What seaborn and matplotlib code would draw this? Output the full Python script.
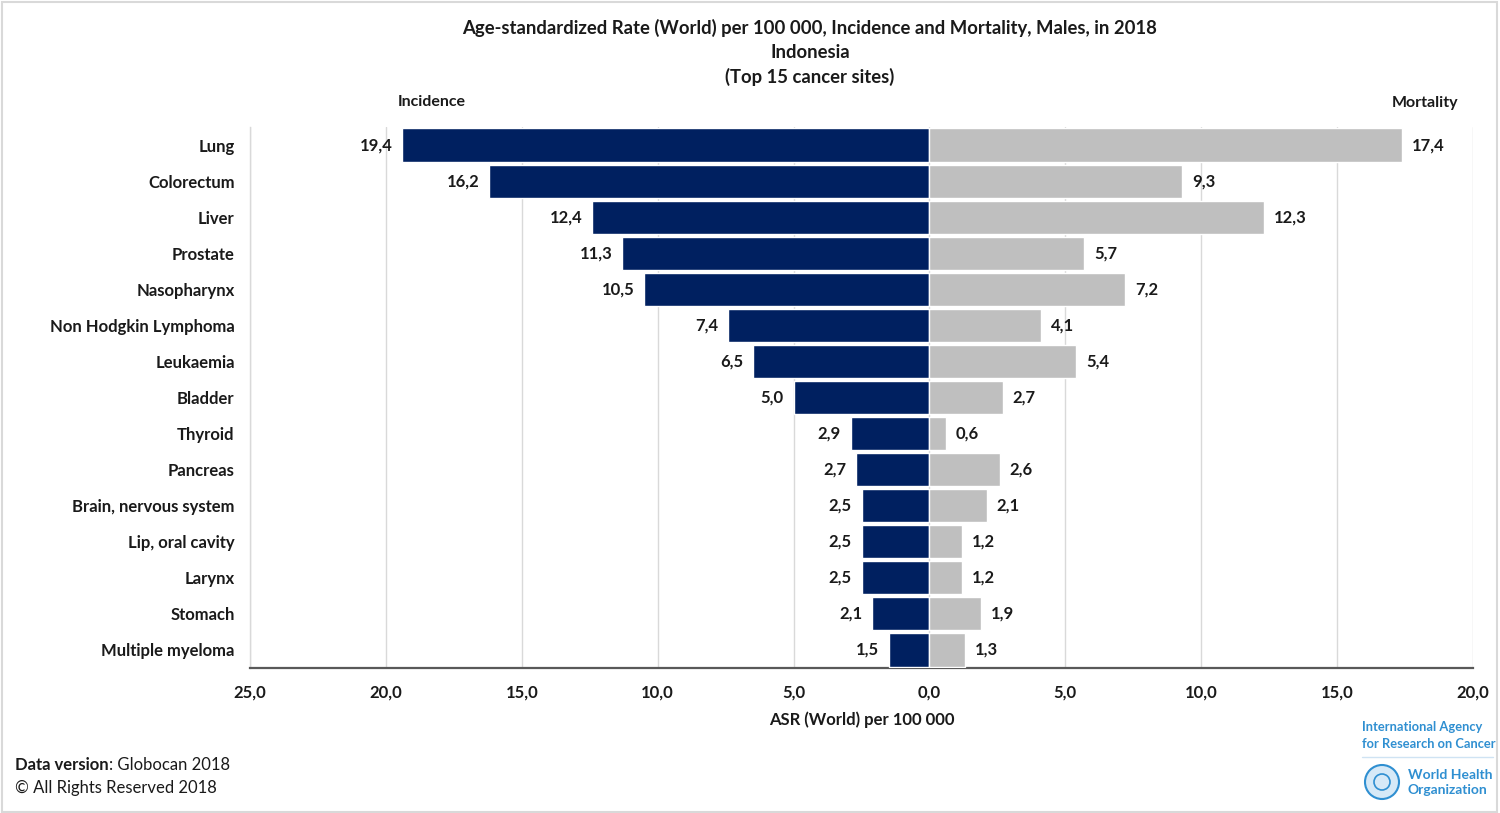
import matplotlib
matplotlib.use("Agg")
import matplotlib.pyplot as plt
import seaborn as sns
import pandas as pd
from matplotlib.ticker import FuncFormatter, FixedLocator
from matplotlib.patches import Rectangle, Circle

sites = ["Lung", "Colorectum", "Liver", "Prostate", "Nasopharynx",
         "Non Hodgkin Lymphoma", "Leukaemia", "Bladder", "Thyroid", "Pancreas",
         "Brain, nervous system", "Lip, oral cavity", "Larynx", "Stomach",
         "Multiple myeloma"]
incidence = [19.4, 16.2, 12.4, 11.3, 10.5, 7.4, 6.5, 5.0, 2.9, 2.7, 2.5, 2.5, 2.5, 2.1, 1.5]
mortality = [17.4, 9.3, 12.3, 5.7, 7.2, 4.1, 5.4, 2.7, 0.6, 2.6, 2.1, 1.2, 1.2, 1.9, 1.3]
x_ticks = [-25, -20, -15, -10, -5, 0, 5, 10, 15, 20]

sns.set_theme(style="white")
plt.rcParams["font.family"] = ["Lato", "DejaVu Sans"]

df_inc = pd.DataFrame({"site": sites, "value": [-v for v in incidence]})
df_mor = pd.DataFrame({"site": sites, "value": mortality})

fig = plt.figure(figsize=(15, 8.13), dpi=100)
ax = fig.add_axes([250/1500, 1-668/813, (1473-250)/1500, (668-127)/813])

sns.barplot(data=df_inc, x="value", y="site", order=sites, orient="h",
            color="#002060", saturation=1, width=0.92, ax=ax, zorder=3)
sns.barplot(data=df_mor, x="value", y="site", order=sites, orient="h",
            color="#BFBFBF", saturation=1, width=0.92, ax=ax, zorder=3)

fmt = lambda v: f"{abs(v):.1f}".replace(".", ",")
ax.bar_label(ax.containers[0], labels=[fmt(v) for v in incidence], padding=7,
             fontsize=12, fontweight="bold", color="#1a1a1a")
ax.bar_label(ax.containers[1], labels=[fmt(v) for v in mortality], padding=7,
             fontsize=12, fontweight="bold", color="#1a1a1a")

ax.set_xlim(-25, 20)
ax.set_ylim(14.5, -0.5)
ax.xaxis.set_major_locator(FixedLocator(x_ticks))
ax.xaxis.set_major_formatter(FuncFormatter(lambda v, p: fmt(v)))
ax.grid(axis="x", color="#D9D9D9", linewidth=1, zorder=0)
ax.grid(axis="y", visible=False)
ax.set_axisbelow(True)

for s in ["top", "right"]:
    ax.spines[s].set_visible(False)
ax.spines["left"].set_color("#D9D9D9")
ax.spines["left"].set_linewidth(1)
ax.spines["bottom"].set_color("#595959")
ax.spines["bottom"].set_linewidth(1.6)

ax.tick_params(axis="y", length=0, pad=11, labelsize=12)
ax.tick_params(axis="x", length=0, pad=12, labelsize=12)
for t in ax.get_yticklabels() + ax.get_xticklabels():
    t.set_fontweight("bold")
    t.set_color("#1a1a1a")
ax.set_ylabel("")
ax.set_xlabel("ASR (World) per 100 000", fontsize=12, fontweight="bold",
              color="#1a1a1a", labelpad=8)

# Titles
tkw = dict(ha="center", va="center", fontsize=13.3, fontweight="bold", color="#1a1a1a")
fig.text(810/1500, 1-28/813, "Age-standardized Rate (World) per 100 000, Incidence and Mortality, Males, in 2018", **tkw)
fig.text(810/1500, 1-52/813, "Indonesia", **tkw)
fig.text(810/1500, 1-77/813, "(Top 15 cancer sites)", **tkw)
fig.text(432/1500, 1-102/813, "Incidence", ha="center", va="center",
         fontsize=11.5, fontweight="bold", color="#1a1a1a")
fig.text(1425/1500, 1-103/813, "Mortality", ha="center", va="center",
         fontsize=11.5, fontweight="bold", color="#1a1a1a")

# Footer
t1 = fig.text(15/1500, 1-765/813, "Data version", ha="left", va="center",
              fontsize=12, fontweight="bold", color="#1a1a1a")
ax.annotate(": Globocan 2018", xy=(1, 0), xycoords=t1, ha="left", va="bottom",
            fontsize=12, color="#1a1a1a", annotation_clip=False)
fig.text(15/1500, 1-788/813, "© All Rights Reserved 2018", ha="left", va="center",
         fontsize=12, color="#1a1a1a")

# Logo text
blue = "#2F8FD1"
fig.text(1362/1500, 1-727/813, "International Agency", ha="left", va="center",
         fontsize=9.3, color=blue, fontweight="bold")
fig.text(1362/1500, 1-744/813, "for Research on Cancer", ha="left", va="center",
         fontsize=9.3, color=blue, fontweight="bold")
fig.add_artist(plt.Line2D([1362/1500, 1493/1500], [1-757/813, 1-757/813],
                          color="#cfe3f3", linewidth=1))
fig.add_artist(Circle((13.82, 8.13 - 7.82), 0.17, transform=fig.dpi_scale_trans,
                      facecolor="#d6e9f7", edgecolor=blue, linewidth=1.5))
fig.add_artist(Circle((13.82, 8.13 - 7.82), 0.08, transform=fig.dpi_scale_trans,
                      facecolor="none", edgecolor=blue, linewidth=1.2))
fig.text(1408/1500, 1-775/813, "World Health", ha="left", va="center",
         fontsize=10, color=blue, fontweight="bold")
fig.text(1408/1500, 1-790/813, "Organization", ha="left", va="center",
         fontsize=10, color=blue, fontweight="bold")

# figure frame
fig.add_artist(Rectangle((0.001, 0.001), 0.997, 0.997, transform=fig.transFigure,
                         facecolor="none", edgecolor="#D9D9D9", linewidth=1.5))

fig.savefig("out.png", dpi=100)
